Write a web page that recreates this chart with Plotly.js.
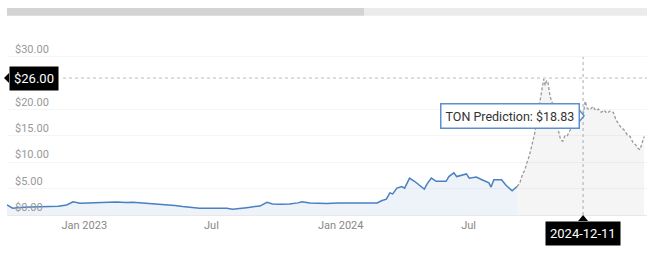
<!DOCTYPE html>
<html>
<head>
<meta charset="utf-8">
<script src="https://cdn.plot.ly/plotly-3.0.1.min.js"></script>
<style>
html,body{margin:0;padding:0;background:#fff;}
#chart{width:660px;height:253px;}
</style>
</head>
<body>
<div id="chart"></div>
<script>
// Historical TON price
const histDates = ['2022-09-13','2022-09-21','2022-10-05','2022-10-20','2022-11-01','2022-11-13','2022-11-25','2022-12-07','2022-12-16','2022-12-26',
 '2023-01-08','2023-01-23','2023-02-05','2023-02-16','2023-03-01','2023-03-11','2023-03-25','2023-04-04','2023-04-16','2023-04-28',
 '2023-05-10','2023-05-21','2023-06-02','2023-06-14','2023-07-01','2023-07-23','2023-07-31','2023-08-10','2023-08-20','2023-09-01',
 '2023-09-08','2023-09-18','2023-09-26','2023-10-08','2023-10-20','2023-11-01','2023-11-07','2023-11-18','2023-12-01','2023-12-12',
 '2023-12-28','2024-01-14','2024-01-28','2024-02-10','2024-02-22','2024-02-28','2024-03-06','2024-03-11','2024-03-15','2024-03-21',
 '2024-03-28','2024-04-01','2024-04-08','2024-04-15','2024-04-22','2024-04-29','2024-05-03','2024-05-09','2024-05-16','2024-05-30',
 '2024-06-03','2024-06-10','2024-06-14','2024-06-21','2024-06-28','2024-07-02','2024-07-12','2024-07-20','2024-07-30','2024-08-02',
 '2024-08-06','2024-08-17','2024-08-23','2024-09-01','2024-09-08'];
const histValues = [1.9,1.3,1.45,1.5,1.45,1.6,1.65,1.9,2.5,2.25,
 2.3,2.35,2.4,2.45,2.35,2.4,2.3,2.2,2.1,1.9,
 1.8,1.6,1.45,1.3,1.3,1.3,1.1,1.2,1.4,1.6,
 1.7,2.4,2.1,2.05,2.1,2.3,2.5,2.3,2.25,2.2,
 2.3,2.3,2.2,2.2,2.3,2.7,3.0,4.2,4.0,5.1,
 5.4,5.1,7.0,6.4,5.7,4.9,5.9,7.0,6.4,6.4,
 7.3,8.0,7.3,7.6,7.8,7.0,7.2,6.7,6.1,5.3,
 6.7,6.7,5.7,4.6,5.4];

// Prediction
const predDates = ['2024-09-08','2024-09-12','2024-09-16','2024-09-19','2024-09-22','2024-09-26','2024-10-01','2024-10-04','2024-10-06','2024-10-09',
 '2024-10-11','2024-10-14','2024-10-16','2024-10-18','2024-10-20','2024-10-22','2024-10-25','2024-10-28','2024-10-31','2024-11-03',
 '2024-11-06','2024-11-09','2024-11-12','2024-11-15','2024-11-18','2024-11-22','2024-11-26','2024-12-01','2024-12-06','2024-12-11',
 '2024-12-14','2024-12-17','2024-12-21','2024-12-25','2024-12-29','2025-01-02','2025-01-06','2025-01-10','2025-01-14','2025-01-18',
 '2025-01-23','2025-01-27','2025-02-02','2025-02-07','2025-02-12','2025-02-16','2025-02-20','2025-02-24','2025-02-26','2025-03-02',
 '2025-03-05','2025-03-08'];
const predValues = [5.4,6.1,7.8,8.5,9.9,11.5,14.3,16,18,20.5,
 22,24.5,25.8,24.6,25.5,25.2,22.5,21.4,20.5,19,
 16,14.3,14.0,15,14.9,16,16.8,18.5,18.3,18.83,
 21.6,20.2,20,20.6,19.8,20.1,19.5,19.9,19.3,19.7,
 19.5,18.0,16.8,16.2,15.2,14.9,13.8,13.3,12.8,12.4,
 13.5,14.9];

const xTickVals = ['2023-01-01','2023-07-01','2024-01-01','2024-07-01'];
const xTickText = ['Jan 2023','Jul','Jan 2024','Jul'];
// $25.00 sits under the $26.00 crosshair badge in the reference
const yTickVals = [0,5,10,15,20,30];
const yTickText = ['$0.00','$5.00','$10.00','$15.00','$20.00','$30.00'];

const hoverDate = '2024-12-11';
const hoverValue = 18.83;
const crossY = 26;

const traces = [
  {x: histDates, y: histValues, type:'scatter', mode:'lines', fill:'tozeroy',
   fillcolor:'rgba(74,134,200,0.10)', line:{color:'#4a7fc1', width:1.5}, hoverinfo:'skip'},
  {x: predDates, y: predValues, type:'scatter', mode:'lines', fill:'tozeroy',
   fillcolor:'rgba(0,0,0,0.04)', line:{color:'#999999', width:1.3, dash:'3px,2px'}, hoverinfo:'skip'}
];

const layout = {
  width:660, height:253,
  margin:{l:7, r:13, t:38, b:38},
  paper_bgcolor:'#ffffff', plot_bgcolor:'#ffffff',
  showlegend:false,
  font:{family:'Roboto, Arial, sans-serif', size:11, color:'#888'},
  xaxis:{type:'date', range:['2022-09-13','2025-03-12'], tickvals:xTickVals, ticktext:xTickText,
    showgrid:false, zeroline:false, showline:true, linecolor:'#e8e8e8', linewidth:1,
    ticks:'', tickfont:{size:11, color:'#888'}, fixedrange:true},
  yaxis:{range:[0,33.6], tickvals:yTickVals, ticktext:yTickText,
    ticklabelposition:'inside top', ticklabelstandoff:5, showgrid:true, gridcolor:'#f5f5f5',
    zeroline:false, showline:false, ticks:'', tickfont:{size:11, color:'#999'}},
  shapes:[
    {type:'rect', xref:'paper', yref:'paper', x0:0, x1:0.5578, y0:1.126, y1:1.169, fillcolor:'#d3d3d3', line:{width:0}},
    {type:'rect', xref:'paper', yref:'paper', x0:0.5578, x1:1, y0:1.126, y1:1.169, fillcolor:'#ebebeb', line:{width:0}},
    {type:'line', xref:'paper', yref:'y', x0:0.0875, x1:1, y0:crossY, y1:crossY, line:{color:'#bbbbbb', width:1, dash:'dot'}},
    {type:'line', xref:'x', yref:'paper', x0:hoverDate, x1:hoverDate, y0:0, y1:0.893, line:{color:'#aaaaaa', width:1, dash:'dot'}},
    {type:'path', xref:'paper', yref:'y', xsizemode:'pixel', ysizemode:'pixel', xanchor:0, yanchor:crossY,
     path:'M 2 5 L -3 0 L 2 -5 Z', fillcolor:'#000', line:{width:0}},
    {type:'path', xref:'x', yref:'paper', xsizemode:'pixel', ysizemode:'pixel', xanchor:hoverDate, yanchor:0,
     path:'M -5 -6 L 0 0 L 5 -6 Z', fillcolor:'#000', line:{width:0}},
    {type:'path', xref:'x', yref:'y', xsizemode:'pixel', ysizemode:'pixel', xanchor:hoverDate, yanchor:hoverValue,
     path:'M -4 6 L 1 0 L -4 -6 Z', fillcolor:'#fff', line:{color:'#5b8fd0', width:1.5}}
  ],
  annotations:[
    {xref:'paper', yref:'y', x:0.003, y:crossY, xanchor:'left', yanchor:'middle', text:'$26.00', showarrow:false,
     bgcolor:'#000', borderpad:4, font:{color:'#fff', size:13, family:'Roboto, Arial, sans-serif'}},
    {xref:'x', yref:'paper', x:hoverDate, y:-0.034, xanchor:'center', yanchor:'top', text:'2024-12-11', showarrow:false,
     bgcolor:'#000', borderpad:4, font:{color:'#fff', size:13, family:'Roboto, Arial, sans-serif'}},
    {xref:'x', yref:'y', x:hoverDate, y:hoverValue, xanchor:'right', yanchor:'middle', xshift:-3, text:'TON Prediction: $18.83', showarrow:false,
     bgcolor:'#fff', bordercolor:'#5b8fd0', borderwidth:1.5, borderpad:4, font:{color:'#333', size:12.5, family:'Roboto, Arial, sans-serif'}}
  ]
};

Plotly.newPlot('chart', traces, layout, {displayModeBar:false, staticPlot:true});
</script>
</body>
</html>
